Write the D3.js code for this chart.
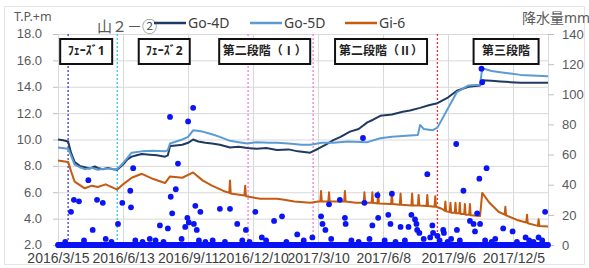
<!DOCTYPE html>
<html>
<head>
<meta charset="utf-8">
<script src="https://cdn.jsdelivr.net/npm/d3@7"></script>
<style>
  body { margin: 0; background: #fff; }
  svg { display: block; font-family: "Noto Sans", "Noto Sans CJK JP", sans-serif; }
</style>
</head>
<body>
<svg class="chart" width="589" height="268"></svg>
<script>
// groundwater levels (T.P.+m)
const go4d = [
  ['2016-03-15', 10.0], ['2016-03-22', 9.95], ['2016-03-29', 9.85], ['2016-04-02', 9.0], ['2016-04-07', 8.3],
  ['2016-04-14', 8.0], ['2016-04-21', 7.9], ['2016-04-28', 7.8], ['2016-05-05', 7.95], ['2016-05-09', 7.85],
  ['2016-05-16', 7.75], ['2016-05-23', 7.85], ['2016-05-30', 7.75], ['2016-06-05', 7.7], ['2016-06-13', 8.1],
  ['2016-06-19', 8.5], ['2016-06-25', 8.7], ['2016-07-02', 8.8], ['2016-07-09', 8.9], ['2016-07-20', 8.85],
  ['2016-07-30', 8.8], ['2016-08-10', 8.7], ['2016-08-14', 8.8], ['2016-08-17', 9.5], ['2016-08-25', 9.55],
  ['2016-09-03', 9.6], ['2016-09-11', 9.75], ['2016-09-18', 10.0], ['2016-09-25', 9.85], ['2016-10-05', 9.75],
  ['2016-10-14', 9.7], ['2016-10-25', 9.6], ['2016-11-08', 9.4], ['2016-11-20', 9.45], ['2016-12-02', 9.35],
  ['2016-12-15', 9.3], ['2016-12-28', 9.35], ['2017-01-12', 9.2], ['2017-01-28', 9.25], ['2017-02-10', 9.1],
  ['2017-02-27', 9.0], ['2017-03-10', 9.3], ['2017-03-20', 9.6], ['2017-03-31', 9.95], ['2017-04-10', 10.2],
  ['2017-04-23', 10.6], ['2017-05-05', 10.8], ['2017-05-17', 11.3], ['2017-05-25', 11.5], ['2017-06-04', 11.8],
  ['2017-06-20', 11.9], ['2017-07-05', 12.1], ['2017-07-15', 12.2], ['2017-07-29', 12.4], ['2017-08-10', 12.6],
  ['2017-08-22', 12.75], ['2017-09-06', 13.2], ['2017-09-18', 13.7], ['2017-10-04', 14.0], ['2017-10-20', 14.1],
  ['2017-10-23', 14.5], ['2017-11-05', 14.45], ['2017-11-17', 14.4], ['2017-12-01', 14.35], ['2017-12-15', 14.3],
  ['2018-01-05', 14.3], ['2018-01-22', 14.3]
];
const go5d = [
  ['2016-03-15', 9.4], ['2016-03-29', 9.3], ['2016-04-02', 8.8], ['2016-04-07', 8.1], ['2016-04-14', 7.9],
  ['2016-04-21', 7.75], ['2016-05-01', 7.85], ['2016-05-09', 7.7], ['2016-05-20', 7.8], ['2016-06-05', 7.75],
  ['2016-06-13', 8.2], ['2016-06-25', 9.0], ['2016-07-09', 9.1], ['2016-07-25', 9.15], ['2016-08-10', 9.1],
  ['2016-08-14', 9.2], ['2016-08-17', 9.7], ['2016-09-03', 10.0], ['2016-09-11', 10.2], ['2016-09-18', 10.7],
  ['2016-10-01', 10.6], ['2016-10-14', 10.4], ['2016-10-25', 10.2], ['2016-11-08', 9.9], ['2016-11-20', 9.8],
  ['2016-12-02', 9.7], ['2016-12-15', 9.8], ['2017-01-01', 9.75], ['2017-01-12', 9.75], ['2017-01-28', 9.7],
  ['2017-02-15', 9.6], ['2017-02-27', 9.6], ['2017-03-15', 9.75], ['2017-03-31', 9.75], ['2017-04-20', 9.85],
  ['2017-05-17', 9.8], ['2017-06-04', 10.1], ['2017-06-20', 10.2], ['2017-07-15', 10.3], ['2017-07-26', 10.35],
  ['2017-07-29', 11.1], ['2017-08-03', 10.8], ['2017-08-15', 10.7], ['2017-08-22', 10.9], ['2017-09-18', 13.6],
  ['2017-10-04', 14.1], ['2017-10-20', 14.15], ['2017-10-23', 15.4], ['2017-11-05', 15.2], ['2017-11-17', 15.1],
  ['2017-12-01', 15.0], ['2017-12-15', 14.9], ['2018-01-22', 14.8]
];
const gi6 = [
  ['2016-03-15', 8.4], ['2016-03-29', 8.3], ['2016-04-02', 7.6], ['2016-04-07', 6.8], ['2016-04-21', 6.3],
  ['2016-05-01', 6.5], ['2016-05-09', 6.4], ['2016-05-20', 6.6], ['2016-06-05', 6.2], ['2016-06-13', 6.6],
  ['2016-06-25', 7.1], ['2016-07-09', 7.4], ['2016-07-25', 7.0], ['2016-08-10', 6.7], ['2016-08-17', 7.2],
  ['2016-09-03', 7.1], ['2016-09-18', 7.5], ['2016-10-01', 6.9], ['2016-10-14', 6.5], ['2016-10-30', 6.1],
  ['2016-11-07', 5.95], ['2016-11-08', 6.9], ['2016-11-09', 5.9], ['2016-11-28', 5.75], ['2016-11-29', 6.5],
  ['2016-11-30', 5.7], ['2016-12-10', 5.6], ['2016-12-20', 5.5], ['2017-01-12', 5.5], ['2017-01-20', 5.45],
  ['2017-02-05', 5.3], ['2017-02-27', 5.2], ['2017-03-10', 5.3],
  ['2017-03-13', 5.3], ['2017-03-14', 6.1], ['2017-03-15', 5.3], ['2017-03-24', 5.3], ['2017-03-25', 6.0],
  ['2017-03-26', 5.3], ['2017-04-15', 5.3], ['2017-04-16', 6.1], ['2017-04-17', 5.3], ['2017-05-01', 5.2],
  ['2017-05-12', 5.2], ['2017-05-13', 6.0], ['2017-05-14', 5.2], ['2017-05-23', 5.2], ['2017-05-24', 6.0],
  ['2017-05-25', 5.2], ['2017-05-31', 5.15], ['2017-06-01', 6.0], ['2017-06-02', 5.15], ['2017-06-19', 5.1],
  ['2017-06-20', 6.0], ['2017-06-21', 5.1], ['2017-07-01', 5.05], ['2017-07-02', 5.9], ['2017-07-03', 5.05],
  ['2017-07-17', 5.0], ['2017-07-18', 5.9], ['2017-07-19', 5.0], ['2017-07-26', 5.0], ['2017-07-27', 5.8],
  ['2017-07-28', 5.0], ['2017-08-07', 4.95], ['2017-08-08', 5.8], ['2017-08-09', 4.95], ['2017-08-18', 4.9],
  ['2017-08-19', 5.7], ['2017-08-20', 4.9], ['2017-08-28', 4.75], ['2017-09-01', 4.6], ['2017-09-02', 5.3],
  ['2017-09-03', 4.55], ['2017-09-08', 4.5], ['2017-09-09', 5.2], ['2017-09-10', 4.45], ['2017-09-15', 4.45],
  ['2017-09-16', 5.2], ['2017-09-17', 4.4], ['2017-09-21', 4.4], ['2017-09-22', 5.2], ['2017-09-23', 4.35],
  ['2017-09-28', 4.35], ['2017-09-29', 5.1], ['2017-09-30', 4.3], ['2017-10-05', 4.3], ['2017-10-06', 5.1],
  ['2017-10-07', 4.25], ['2017-10-20', 4.2], ['2017-10-23', 5.95], ['2017-11-02', 5.2], ['2017-11-15', 4.5],
  ['2017-11-23', 4.3], ['2017-11-24', 4.9], ['2017-11-25', 4.25], ['2017-12-10', 3.9], ['2017-12-23', 3.7],
  ['2017-12-24', 4.3], ['2017-12-25', 3.65], ['2018-01-08', 3.45], ['2018-01-09', 3.95], ['2018-01-10', 3.45],
  ['2018-01-22', 3.4]
];
// daily rainfall (mm); days not listed had no rain
const rainDays = [
  ['2016-03-25', 2], ['2016-04-02', 22], ['2016-04-06', 30], ['2016-04-13', 29], ['2016-04-20', 3],
  ['2016-04-26', 43], ['2016-05-02', 10], ['2016-05-08', 30], ['2016-05-16', 28], ['2016-05-20', 4],
  ['2016-05-28', 2], ['2016-06-06', 14], ['2016-06-12', 28], ['2016-06-23', 36], ['2016-06-24', 25],
  ['2016-06-27', 51], ['2016-06-30', 3], ['2016-07-10', 2], ['2016-07-20', 4], ['2016-07-28', 3],
  ['2016-08-03', 13], ['2016-08-08', 2], ['2016-08-14', 11], ['2016-08-17', 85], ['2016-08-18', 32],
  ['2016-08-20', 21], ['2016-08-25', 37], ['2016-08-28', 54], ['2016-09-02', 4], ['2016-09-07', 12],
  ['2016-09-10', 18], ['2016-09-11', 82], ['2016-09-12', 15], ['2016-09-18', 91], ['2016-09-19', 14],
  ['2016-09-21', 26], ['2016-09-23', 10], ['2016-09-26', 3], ['2016-09-28', 22], ['2016-10-05', 2],
  ['2016-10-15', 3], ['2016-10-25', 24], ['2016-11-01', 2], ['2016-11-08', 24], ['2016-11-18', 14],
  ['2016-11-25', 3], ['2016-11-30', 10], ['2016-12-05', 2], ['2016-12-13', 22], ['2016-12-22', 5],
  ['2016-12-28', 3], ['2017-01-08', 16], ['2017-01-19', 19], ['2017-01-25', 2], ['2017-02-09', 7],
  ['2017-02-18', 3], ['2017-03-02', 5], ['2017-03-14', 19], ['2017-03-16', 14], ['2017-03-20', 10],
  ['2017-03-25', 27], ['2017-03-28', 4], ['2017-04-09', 30], ['2017-04-16', 18], ['2017-04-17', 14],
  ['2017-04-25', 3], ['2017-05-05', 2], ['2017-05-11', 71], ['2017-05-13', 28], ['2017-05-20', 4],
  ['2017-05-24', 13], ['2017-05-31', 33], ['2017-06-01', 18], ['2017-06-10', 3], ['2017-06-15', 20],
  ['2017-06-18', 14], ['2017-06-20', 34], ['2017-06-25', 2], ['2017-07-02', 12], ['2017-07-08', 3],
  ['2017-07-13', 12], ['2017-07-17', 20], ['2017-07-22', 17], ['2017-07-24', 14], ['2017-07-25', 10],
  ['2017-07-28', 8], ['2017-08-03', 4], ['2017-08-08', 47], ['2017-08-12', 5], ['2017-08-15', 13],
  ['2017-08-16', 8], ['2017-08-22', 6], ['2017-08-25', 3], ['2017-08-30', 10], ['2017-08-31', 8],
  ['2017-09-05', 2], ['2017-09-10', 4], ['2017-09-17', 67], ['2017-09-18', 10], ['2017-09-22', 3],
  ['2017-09-27', 36], ['2017-10-06', 16], ['2017-10-11', 14], ['2017-10-13', 9], ['2017-10-16', 21],
  ['2017-10-19', 44], ['2017-10-20', 14], ['2017-10-22', 117], ['2017-10-23', 108], ['2017-10-27', 3],
  ['2017-10-29', 51], ['2017-11-05', 2], ['2017-11-10', 4], ['2017-11-21', 11], ['2017-12-04', 9],
  ['2017-12-10', 2], ['2017-12-22', 5], ['2017-12-27', 3], ['2018-01-02', 2], ['2018-01-09', 5],
  ['2018-01-14', 3], ['2018-01-18', 22]
];
const period = ['2016-03-15', '2018-01-22'];
const tickDates = ['2016-03-15', '2016-06-13', '2016-09-11', '2016-12-10', '2017-03-10',
  '2017-06-08', '2017-09-06', '2017-12-05'];
const levelTicks = [2, 4, 6, 8, 10, 12, 14, 16, 18];
const rainTicks = [0, 20, 40, 60, 80, 100, 120, 140];
const phaseLines = [
  ['2016-03-29', '#3a3ad6'], ['2016-06-05', '#33c6f0'], ['2016-12-03', '#f07ce0'],
  ['2017-03-03', '#f07ce0'], ['2017-08-22', '#ff2a2a']
];
const phaseLabels = [
  ['2016-04-23', 'ﾌｪｰｽﾞ1', 52], ['2016-08-09', 'ﾌｪｰｽﾞ2', 51], ['2016-12-26', '第二段階（Ⅰ）', 91],
  ['2017-06-05', '第二段階（Ⅱ）', 92], ['2017-11-25', '第三段階', 65]
];
const seriesNames = ['Go-4D', 'Go-5D', 'Gi-6'];
const seriesColors = ['#1f3a60', '#5b9bd5', '#c55a11'];

const parse = d3.utcParse('%Y-%m-%d');
const svg = d3.select('.chart');
const plot = { left: 58, right: 548, top: 34, bottom: 245 };

const x = d3.scaleUtc().domain(period.map(parse)).range([plot.left, plot.right]);
const y = d3.scaleLinear().domain([2, 18]).range([plot.bottom, plot.top]);
const yRain = d3.scaleLinear().domain([0, 140]).range([plot.bottom, plot.top]);

// outer frame
svg.append('rect').attr('x', 4.5).attr('y', 6.5).attr('width', 580).attr('height', 258)
  .attr('fill', 'none').attr('stroke', '#e4e4e4');

// grid
svg.append('g').selectAll('line').data(levelTicks).join('line')
  .attr('x1', plot.left).attr('x2', plot.right)
  .attr('y1', d => y(d) + 0.5).attr('y2', d => y(d) + 0.5)
  .attr('stroke', '#d9d9d9');
svg.append('g').selectAll('line').data(tickDates.slice(1)).join('line')
  .attr('x1', d => Math.round(x(parse(d))) + 0.5).attr('x2', d => Math.round(x(parse(d))) + 0.5)
  .attr('y1', plot.top).attr('y2', plot.bottom)
  .attr('stroke', '#d9d9d9');

// axes
const leftAxis = svg.append('g').attr('transform', `translate(${plot.left},0)`)
  .call(d3.axisLeft(y).tickValues(levelTicks).tickFormat(d3.format('.1f')).tickSize(5).tickPadding(11));
const rightAxis = svg.append('g').attr('transform', `translate(${plot.right},0)`)
  .call(d3.axisRight(yRain).tickValues(rainTicks).tickSize(6).tickPadding(8));
const bottomAxis = svg.append('g').attr('transform', `translate(0,${plot.bottom})`)
  .call(d3.axisBottom(x).tickValues(tickDates.map(parse)).tickFormat(d3.utcFormat('%Y/%-m/%-d'))
    .tickSize(0).tickPadding(8));
[leftAxis, rightAxis].forEach(g => {
  g.select('.domain').attr('stroke', '#d9d9d9');
  g.selectAll('.tick line').attr('stroke', '#bfbfbf');
  g.selectAll('text').attr('fill', '#595959').style('font-size', '13px');
});
leftAxis.selectAll('text').attr('dy', '0.3em');
bottomAxis.select('.domain').remove();
bottomAxis.selectAll('text').attr('fill', '#404040').style('font-size', '14px');

// phase boundaries
svg.append('g').selectAll('line').data(phaseLines).join('line')
  .attr('x1', d => x(parse(d[0]))).attr('x2', d => x(parse(d[0])))
  .attr('y1', plot.top).attr('y2', plot.bottom)
  .attr('stroke', d => d[1]).attr('stroke-width', 1.3).attr('stroke-dasharray', '2,2');

// level lines
const line = d3.line().x(d => x(parse(d[0]))).y(d => y(d[1]));
[go4d, go5d, gi6].forEach((s, i) => {
  svg.append('path').datum(s).attr('d', line)
    .attr('fill', 'none').attr('stroke', seriesColors[i]).attr('stroke-width', 2)
    .attr('stroke-linejoin', 'round');
});

// rainfall dots
const rainMap = new Map(rainDays.map(([d, v]) => [d, v]));
const fmt = d3.utcFormat('%Y-%m-%d');
const allDays = d3.utcDay.range(parse(period[0]), d3.utcDay.offset(parse(period[1]), 1));
svg.append('g').selectAll('circle').data(allDays).join('circle')
  .attr('cx', d => x(d)).attr('cy', d => yRain(rainMap.get(fmt(d)) || 0))
  .attr('r', 2.9).attr('fill', '#0a14f5');

// phase label boxes
const boxes = svg.append('g').selectAll('g').data(phaseLabels).join('g')
  .attr('transform', d => `translate(${x(parse(d[0]))},51)`);
boxes.append('rect')
  .attr('x', d => -d[2] / 2).attr('y', -12).attr('width', d => d[2]).attr('height', 25)
  .attr('fill', '#fff').attr('stroke', '#111').attr('stroke-width', 2);
boxes.append('text').attr('text-anchor', 'middle').attr('dy', '0.36em')
  .style('font-size', '12px').style('font-weight', 'bold').attr('fill', '#222')
  .text(d => d[1]);

// titles
svg.append('text').attr('x', 14).attr('y', 21).style('font-size', '12.5px').attr('fill', '#595959').text('T.P.+m');
svg.append('text').attr('x', 97).attr('y', 32).style('font-size', '15px').attr('fill', '#595959').text('山２－②');
svg.append('text').attr('x', 522).attr('y', 23).style('font-size', '14px').attr('fill', '#595959').text('降水量mm');

// legend
const legendX = [154, 250, 345];
const legend = svg.append('g').selectAll('g').data(seriesNames).join('g')
  .attr('transform', (d, i) => `translate(${legendX[i]},23)`);
legend.append('line').attr('x1', 0).attr('x2', 32).attr('stroke', (d, i) => seriesColors[i]).attr('stroke-width', 2.5);
legend.append('text').attr('x', 34).attr('dy', '0.35em').style('font-size', '14px').attr('fill', '#404040').text(d => d);
</script>
</body>
</html>
